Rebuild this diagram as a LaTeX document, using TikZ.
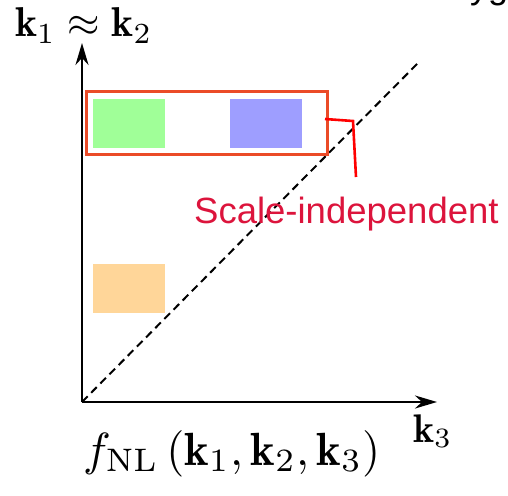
\documentclass[tikz,border=0pt]{standalone}
\usepackage{graphicx}
\usepackage{fontspec}
\newfontfamily\lsans{Liberation Sans}
\usetikzlibrary{arrows.meta}
\definecolor{frameorange}{RGB}{235,75,40}
\definecolor{calloutred}{RGB}{255,0,0}
\definecolor{textcrimson}{RGB}{220,20,60}
\definecolor{boxgreen}{RGB}{160,255,152}
\definecolor{boxblue}{RGB}{158,158,255}
\definecolor{boxorange}{RGB}{255,214,153}
\newcommand{\widemath}[2]{\resizebox{#1}{!}{$#2$}}
\tikzset{
  axisline/.style={line width=2.4pt, -{Stealth[length=22pt,width=13pt,inset=7pt]}},
  fillbox/.style={draw=none, minimum width=72pt, minimum height=49pt, inner sep=0pt},
  mathlbl/.style={inner sep=0pt},
}
\begin{document}
\begin{tikzpicture}[x=1pt,y=-1pt]
\useasboundingbox (0,0) rectangle (508,495);
% clipped text fragment at top right
\node[anchor=base west, inner sep=0pt, font=\lsans\fontsize{36}{40}\selectfont] (frag) at (470,-1) {yg};
% axes
\coordinate (O) at (82,402);
\coordinate (ytip) at (82,43);
\coordinate (xtip) at (437,402);
\coordinate (dend) at (418,63);
\draw[line width=2pt, dash pattern=on 8pt off 5pt] (O) -- (dend);
\draw[axisline] (O) -- (ytip);
\draw[axisline] (O) -- (xtip);
% boxes
\node[fillbox, fill=boxgreen] (green) at (129,123.5) {};
\node[fillbox, fill=boxblue] (blue) at (266,123.5) {};
\node[fillbox, fill=boxorange] (orange) at (129,288.5) {};
\node[draw=frameorange, line width=3pt, minimum width=241pt, minimum height=63pt, inner sep=0pt] (frame) at (206.5,122.5) {};
% callout
\coordinate (c1) at (325,119);
\coordinate (c2) at (353,121);
\coordinate (c3) at (356,177);
\draw[calloutred, line width=2.6pt] (c1) -- (c2) -- (c3);
\node[anchor=base west, inner sep=0pt, text=textcrimson, font=\lsans\fontsize{36.5}{40}\selectfont] (lbl) at (194,223) {Scale-independent};
% labels
\node[mathlbl, anchor=base west] (ylbl) at (15,37) {\widemath{137pt}{\mathbf{k}_1\approx\mathbf{k}_2}};
\node[mathlbl, anchor=base west] (xlbl) at (413,442) {\widemath{39pt}{\mathbf{k}_3}};
\node[mathlbl, anchor=base west] (flbl) at (83,465) {\widemath{297pt}{f_{\mathrm{NL}}\,(\mathbf{k}_1,\mathbf{k}_2,\mathbf{k}_3)}};
\end{tikzpicture}
\end{document}
